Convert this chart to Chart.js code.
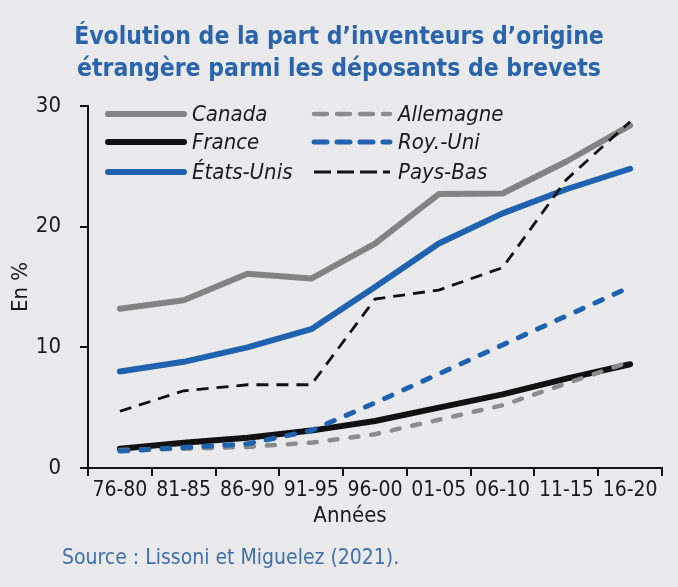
<!DOCTYPE html>
<html lang="fr">
<head>
<meta charset="utf-8">
<script src="https://cdn.jsdelivr.net/npm/chart.js@4"></script>
<style>
  html, body { margin: 0; padding: 0; background: #eaeaec; }
  #wrap { position: relative; width: 678px; height: 587px; background: #eaeaec; overflow: hidden; }
  #title { position: absolute; left: 0; top: 20px; width: 678px; text-align: center;
    font-family: "Liberation Sans Narrow", "DejaVu Sans Condensed", "Roboto", sans-serif;
    font-weight: bold; font-size: 24.5px; line-height: 32px; color: #2a64ad; }
  #xtitle { position: absolute; left: 250px; width: 200px; top: 502px; text-align: center;
    font-family: "Liberation Sans Narrow", "DejaVu Sans Condensed", "Roboto", sans-serif;
    font-size: 22px; line-height: 26px; color: #1a1a1a; }
  #source { position: absolute; left: 62px; top: 545px;
    font-family: "Liberation Sans Narrow", "DejaVu Sans Condensed", "Roboto", sans-serif;
    font-size: 21px; line-height: 25px; color: #3f70ae; }
  canvas { position: absolute; left: 0; top: 0; }
</style>
</head>
<body>
<div id="wrap">
  <canvas id="c" width="678" height="587"></canvas>
  <div id="title">Évolution de la part d’inventeurs d’origine<br>étrangère parmi les déposants de brevets</div>
  <div id="xtitle">Années</div>
  <div id="source">Source : Lissoni et Miguelez (2021).</div>
</div>
<script>
const categories = ["76-80","81-85","86-90","91-95","96-00","01-05","06-10","11-15","16-20"];
const yTicks = [0, 10, 20, 30];

const canada    = [13.2, 13.9, 16.1, 15.7, 18.6, 22.7, 22.75, 25.4, 28.4];
const france    = [1.6, 2.1, 2.5, 3.1, 3.9, 5.0, 6.1, 7.4, 8.6];
const etatsUnis = [8.0, 8.8, 10.0, 11.5, 15.0, 18.6, 21.1, 23.1, 24.8];
const allemagne = [1.5, 1.6, 1.75, 2.1, 2.8, 4.0, 5.2, 7.0, 8.8];
const royUni    = [1.4, 1.7, 2.0, 3.1, 5.4, 7.8, 10.2, 12.6, 15.0];
const paysBas   = [4.7, 6.4, 6.9, 6.9, 14.0, 14.75, 16.6, 23.9, 28.7];

const FONT = '"Liberation Sans Narrow", "DejaVu Sans Condensed", "Roboto", sans-serif';
const GREY = '#838383', BLACK = '#111111', BLUE = '#1f63b0';

const legendPos = [
  {x: 108, y: 114}, {x: 108, y: 142}, {x: 108, y: 172},
  {x: 314, y: 114}, {x: 314, y: 142}, {x: 314, y: 172}
];

const legendPlugin = {
  id: 'inlineLegend',
  afterDraw(chart) {
    const ctx = chart.ctx;
    chart.data.datasets.forEach((ds, i) => {
      const p = legendPos[i];
      ctx.save();
      ctx.strokeStyle = ds.borderColor;
      ctx.lineWidth = ds.borderWidth;
      ctx.lineCap = ds.borderCapStyle || 'butt';
      ctx.setLineDash(ds.legendDash || []);
      ctx.beginPath();
      ctx.moveTo(p.x, p.y);
      ctx.lineTo(p.x + 76, p.y);
      ctx.stroke();
      ctx.setLineDash([]);
      ctx.fillStyle = '#1a1a1a';
      ctx.font = 'italic 22px ' + FONT;
      ctx.textBaseline = 'middle';
      ctx.textAlign = 'left';
      ctx.fillText(ds.label, p.x + 84, p.y + 1);
      ctx.restore();
    });
  }
};

new Chart(document.getElementById('c'), {
  type: 'line',
  data: {
    labels: categories,
    datasets: [
      {label: 'Canada', data: canada, borderColor: GREY, borderWidth: 6, borderCapStyle: 'round', borderJoinStyle: 'round', order: 5},
      {label: 'France', data: france, borderColor: BLACK, borderWidth: 6, borderCapStyle: 'round', borderJoinStyle: 'round', order: 4},
      {label: 'États-Unis', data: etatsUnis, borderColor: BLUE, borderWidth: 6, borderCapStyle: 'round', borderJoinStyle: 'round', order: 3},
      {label: 'Allemagne', data: allemagne, borderColor: '#8c8c8c', borderWidth: 4.5, borderCapStyle: 'round', borderDash: [8, 13], legendDash: [13, 10], order: 2},
      {label: 'Roy.-Uni', data: royUni, borderColor: BLUE, borderWidth: 5, borderCapStyle: 'round', borderDash: [8, 13], legendDash: [13, 10], order: 1},
      {label: 'Pays-Bas', data: paysBas, borderColor: BLACK, borderWidth: 2.8, borderDash: [12, 8], legendDash: [17, 6], order: 0}
    ].map(d => Object.assign({pointRadius: 0, pointHoverRadius: 0, fill: false, tension: 0}, d))
  },
  options: {
    responsive: false,
    animation: false,
    events: [],
    layout: {padding: {top: 106, right: 16, bottom: 0, left: 0}},
    plugins: {legend: {display: false}, tooltip: {enabled: false}, title: {display: false}},
    scales: {
      x: {
        type: 'category',
        offset: true,
        grid: {offset: true, drawOnChartArea: false, drawTicks: true, tickLength: 8, color: '#111', lineWidth: 2},
        border: {display: true, color: '#111', width: 2},
        ticks: {color: '#1a1a1a', font: {family: FONT, size: 21}, padding: 2, maxRotation: 0, autoSkip: false},
        title: {display: false},
        afterFit(s) { s.height = 587 - 468; }
      },
      y: {
        min: 0, max: 30,
        afterBuildTicks(s) { s.ticks = yTicks.map(v => ({value: v})); },
        grid: {drawOnChartArea: false, drawTicks: true, tickLength: 8, color: '#111', lineWidth: 2},
        border: {display: true, color: '#111', width: 2},
        ticks: {color: '#1a1a1a', font: {family: FONT, size: 22}, padding: 19},
        title: {display: true, text: 'En %', color: '#1a1a1a', font: {family: FONT, size: 22}, padding: {top: 8, bottom: 0}},
        afterFit(s) { s.width = 88; }
      }
    }
  },
  plugins: [legendPlugin]
});
</script>
</body>
</html>
